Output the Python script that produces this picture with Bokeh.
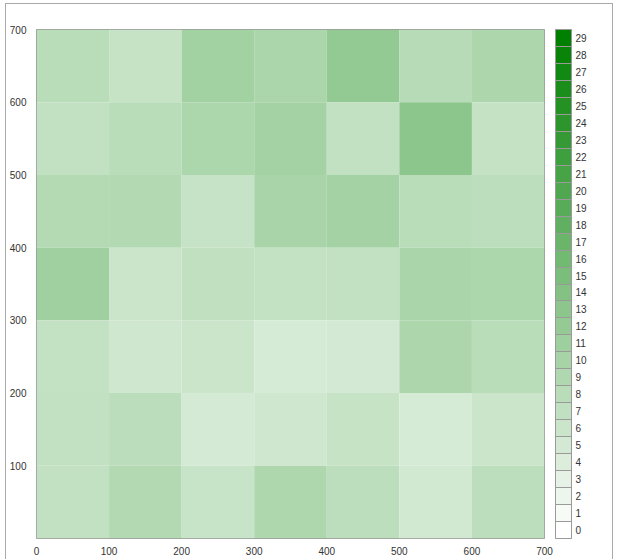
from bokeh.plotting import figure
from bokeh.models import (LinearColorMapper, ColorBar, FixedTicker, Range1d,
                          ColumnDataSource)
from bokeh.transform import linear_cmap
from bokeh.embed import file_html
from bokeh.resources import INLINE

# ---- data ----
x_edges = [0, 100, 200, 300, 400, 500, 600]          # left edge of each column
y_edges = [600, 500, 400, 300, 200, 100, 0]          # bottom edge of each row (top row first)
values = [
    [8.0, 6.5, 10.6, 9.6, 12.3, 8.2, 9.4],   # 600-700
    [7.0, 8.0, 9.5, 10.4, 7.0, 13.0, 6.6],   # 500-600
    [8.5, 8.8, 6.4, 9.8, 10.2, 8.0, 7.6],    # 400-500
    [10.8, 6.0, 7.2, 6.8, 7.0, 9.7, 9.5],    # 300-400
    [6.8, 5.5, 6.0, 4.7, 5.0, 9.3, 8.0],     # 200-300
    [7.0, 7.8, 4.8, 5.5, 6.5, 4.7, 6.0],     # 100-200
    [7.0, 8.8, 6.3, 9.2, 7.5, 5.3, 7.7],     # 0-100
]
levels = list(range(30))
x_ticks = [0, 100, 200, 300, 400, 500, 600, 700]
y_ticks = [100, 200, 300, 400, 500, 600, 700]


def level_color(t):
    r = round(255 * (1 - t))
    g = round(255 - (255 - 128) * t)
    return "#%02x%02x%02x" % (r, g, r)


bar_palette = [level_color(k / 29) for k in levels]
fine_palette = [level_color(i / 255) for i in range(256)]

left, right, bottom, top, val = [], [], [], [], []
for yi, yb in enumerate(y_edges):
    for xi, xl in enumerate(x_edges):
        left.append(xl)
        right.append(xl + 100)
        bottom.append(yb)
        top.append(yb + 100)
        val.append(values[yi][xi])
src = ColumnDataSource(dict(left=left, right=right, bottom=bottom, top=top, val=val))

FONT = "Liberation Sans"
FS = "10px"
TXT = "#333333"

p = figure(width=608, height=558,
           x_range=Range1d(0, 700), y_range=Range1d(0, 700),
           output_backend="svg", toolbar_location=None,
           min_border_left=30, min_border_top=25, min_border_bottom=24,
           min_border_right=70)
p.background_fill_color = "white"
p.border_fill_color = "white"
p.outline_line_color = "#999999"
p.grid.visible = False

p.quad(left="left", right="right", bottom="bottom", top="top", source=src,
       fill_color=linear_cmap("val", fine_palette, 0, 29), line_color=None)

for ax in (p.xaxis[0], p.yaxis[0]):
    ax.axis_line_color = None
    ax.major_tick_line_color = None
    ax.minor_tick_line_color = None
    ax.major_label_text_font = FONT
    ax.major_label_text_font_size = FS
    ax.major_label_text_color = TXT
    ax.major_label_standoff = 4
p.xaxis[0].major_label_standoff = 2
p.xaxis[0].ticker = FixedTicker(ticks=x_ticks)
p.yaxis[0].ticker = FixedTicker(ticks=y_ticks)

bar_mapper = LinearColorMapper(palette=bar_palette, low=-0.5, high=29.5)
cb = ColorBar(color_mapper=bar_mapper,
              ticker=FixedTicker(ticks=levels, minor_ticks=[k - 0.5 for k in levels] + [29.5]),
              width=16, height="auto", margin=0, padding=0,
              location=(11, 0),
              label_standoff=4,
              major_tick_line_color=None,
              minor_tick_line_color="#9a9a9a", minor_tick_in=16, minor_tick_out=0,
              bar_line_color="#9a9a9a",
              major_label_text_font=FONT, major_label_text_font_size=FS,
              major_label_text_color=TXT,
              border_line_color=None, background_fill_alpha=0)
p.add_layout(cb, "right")

p.styles = {"border": "1px solid #aaaaaa", "margin-left": "5px", "margin-top": "3px"}

open("out.html", "w").write(file_html(p, INLINE))
